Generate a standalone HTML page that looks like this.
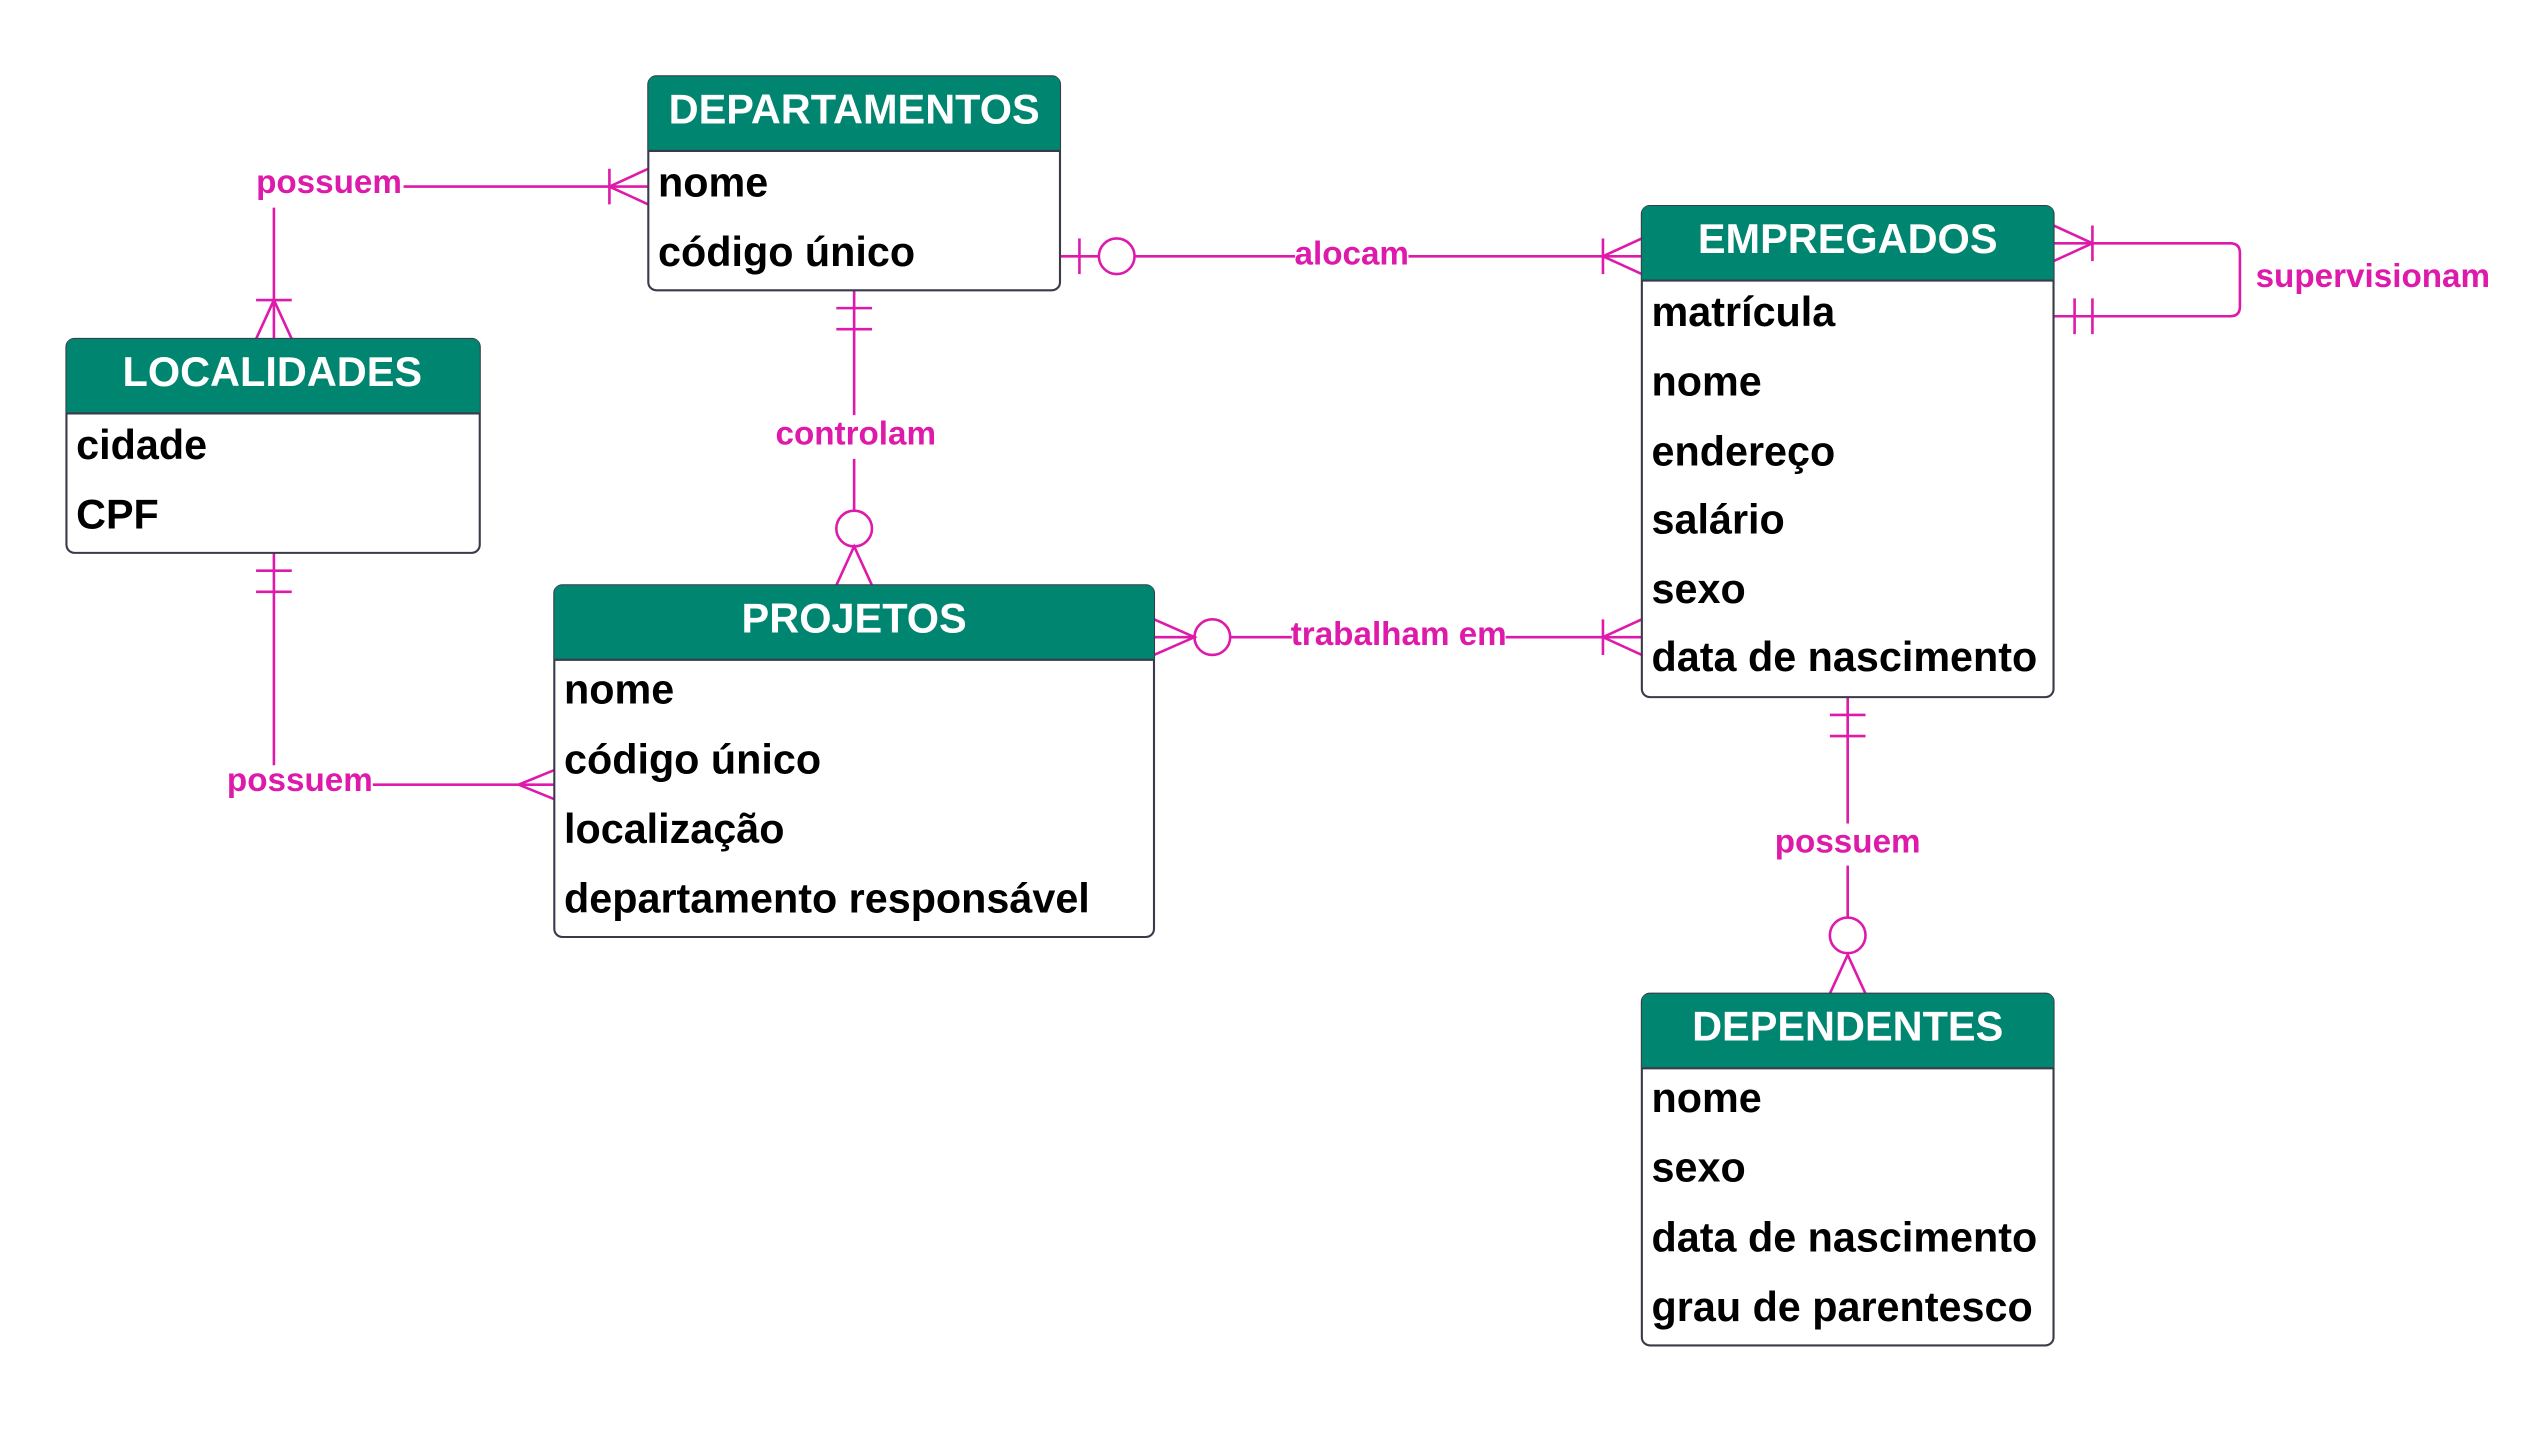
<!DOCTYPE html>
<html><head><meta charset="utf-8"><style>
html,body{margin:0;padding:0;background:#fff;}
svg{display:block;}
.h{font:bold 25.6px "Liberation Sans",sans-serif;fill:#fff;text-anchor:middle;}
.a{font:bold 25.5px "Liberation Sans",sans-serif;fill:#000;}
.l{font:bold 20.5px "Liberation Sans",sans-serif;fill:#dd1aaa;text-anchor:middle;}
.c{stroke:#dd1aaa;stroke-width:1.6;fill:none;}
.box{fill:#fff;stroke:#3a3a4a;stroke-width:1.3;}
.hd{fill:#008570;}
</style></head><body>
<svg width="2543" height="1438" viewBox="0 0 1569 887" xmlns="http://www.w3.org/2000/svg">
<g class="c">
<path d="M400,115 H249"/><path d="M169,128 V209"/>
<path d="M400,104 L376,115 L400,126 M376,104 V126"/>
<path d="M158,209 L169,185 L180,209 M158,185 H180"/>
<path d="M169,341 V472"/><path d="M230,484 H342"/>
<path d="M158,352 H180 M158,365 H180"/>
<path d="M342,475 L320,484 L342,493"/>
<path d="M654,158 H678 M700,158 H799 M869,158 H1013"/>
<path d="M666,147 V169"/><circle cx="689" cy="158" r="11"/>
<path d="M1013,147 L989,158 L1013,169 M989,147 V169"/>
<path d="M527,179 V256 M527,283 V315"/>
<path d="M516,190 H538 M516,203 H538"/><circle cx="527" cy="326" r="11"/>
<path d="M516,361 L527,337 L538,361"/>
<path d="M712,393 H737 M759,393 H797 M929,393 H1013"/>
<path d="M712,382 L737,393 L712,404"/><circle cx="748" cy="393" r="11"/>
<path d="M1013,382 L989,393 L1013,404 M989,382 V404"/>
<path d="M1267,150 H1376 Q1382,150 1382,156 V189 Q1382,195 1376,195 H1267"/>
<path d="M1267,139 L1291,150 L1267,161 M1291,139 V161"/>
<path d="M1280,184 V206 M1291,184 V206"/>
<path d="M1140,430 V508 M1140,534 V566"/>
<path d="M1129,441 H1151 M1129,454 H1151"/><circle cx="1140" cy="577" r="11"/>
<path d="M1129,613 L1140,589 L1151,613"/>
</g>
<text class="l" x="203" y="119">possuem</text>
<text class="l" x="185" y="488">possuem</text>
<text class="l" x="834" y="163">alocam</text>
<text class="l" x="528" y="274">controlam</text>
<text class="l" x="863" y="398">trabalham em</text>
<text class="l" x="1464" y="177">supervisionam</text>
<text class="l" x="1140" y="526">possuem</text>

<rect class="box" x="400" y="47" width="254" height="132" rx="5"/>
<path class="hd" d="M405,47 H649 Q654,47 654,52 V93 H400 V52 Q400,47 405,47Z"/>
<line x1="400" y1="93" x2="654" y2="93" stroke="#3a3a4a" stroke-width="1.3"/>
<text class="h" x="527" y="76">DEPARTAMENTOS</text>
<text class="a" x="406" y="121">nome</text>
<text class="a" x="406" y="164">código único</text>

<rect class="box" x="41" y="209" width="255" height="132" rx="5"/>
<path class="hd" d="M46,209 H291 Q296,209 296,214 V255 H41 V214 Q41,209 46,209Z"/>
<line x1="41" y1="255" x2="296" y2="255" stroke="#3a3a4a" stroke-width="1.3"/>
<text class="h" x="168" y="238">LOCALIDADES</text>
<text class="a" x="47" y="283">cidade</text>
<text class="a" x="47" y="326">CPF</text>

<rect class="box" x="342" y="361" width="370" height="217" rx="5"/>
<path class="hd" d="M347,361 H707 Q712,361 712,366 V407 H342 V366 Q342,361 347,361Z"/>
<line x1="342" y1="407" x2="712" y2="407" stroke="#3a3a4a" stroke-width="1.3"/>
<text class="h" x="527" y="390">PROJETOS</text>
<text class="a" x="348" y="434">nome</text>
<text class="a" x="348" y="477">código único</text>
<text class="a" x="348" y="520">localização</text>
<text class="a" x="348" y="563">departamento responsável</text>

<rect class="box" x="1013" y="127" width="254" height="303" rx="5"/>
<path class="hd" d="M1018,127 H1262 Q1267,127 1267,132 V173 H1013 V132 Q1013,127 1018,127Z"/>
<line x1="1013" y1="173" x2="1267" y2="173" stroke="#3a3a4a" stroke-width="1.3"/>
<text class="h" x="1140" y="156">EMPREGADOS</text>
<text class="a" x="1019" y="201">matrícula</text>
<text class="a" x="1019" y="244">nome</text>
<text class="a" x="1019" y="287">endereço</text>
<text class="a" x="1019" y="329">salário</text>
<text class="a" x="1019" y="372">sexo</text>
<text class="a" x="1019" y="414">data de nascimento</text>

<rect class="box" x="1013" y="613" width="254" height="217" rx="5"/>
<path class="hd" d="M1018,613 H1262 Q1267,613 1267,618 V659 H1013 V618 Q1013,613 1018,613Z"/>
<line x1="1013" y1="659" x2="1267" y2="659" stroke="#3a3a4a" stroke-width="1.3"/>
<text class="h" x="1140" y="642">DEPENDENTES</text>
<text class="a" x="1019" y="686">nome</text>
<text class="a" x="1019" y="729">sexo</text>
<text class="a" x="1019" y="772">data de nascimento</text>
<text class="a" x="1019" y="815">grau de parentesco</text>
</svg>
</body></html>
